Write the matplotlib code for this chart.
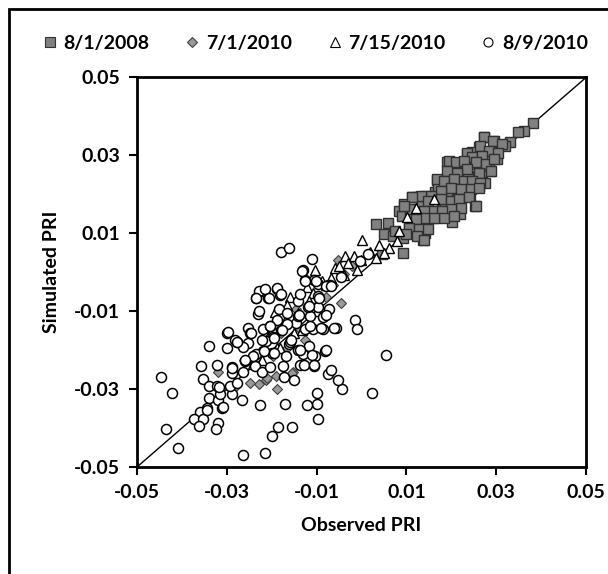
import matplotlib
matplotlib.use("Agg")
import matplotlib.pyplot as plt
from matplotlib.patches import Rectangle
from matplotlib.lines import Line2D

plt.rcParams['font.family'] = ['Lato', 'DejaVu Sans']
plt.rcParams['font.weight'] = 'bold'

series_names = ["8/1/2008", "7/1/2010", "7/15/2010", "8/9/2010"]

# 8/1/2008 (squares)
sq_x = [0.0381, 0.0361, 0.0348, 0.0331, 0.0320, 0.0273, 0.0294, 0.0261, 0.0301, 0.0287,
        0.0253, 0.0235, 0.0190, 0.0209, 0.0231, 0.0275, 0.0261, 0.0242, 0.0223, 0.0168,
        0.0178, 0.0201, 0.0242, 0.0253, 0.0220, 0.0198, 0.0190, 0.0164, 0.0142, 0.0123,
        0.0112, 0.0095, 0.0134, 0.0150, 0.0182, 0.0201, 0.0220, 0.0160, 0.0138, 0.0120,
        0.0142, 0.0123, 0.0138, 0.0105, 0.0093, 0.0060, 0.0032, 0.0049, 0.0071, 0.0093,
        0.0045, 0.0233, 0.0223, 0.0269, 0.0298, 0.0271, 0.0283, 0.0182, 0.0216, 0.0083,
        0.0090, 0.0247, 0.0214, 0.0200, 0.0228, 0.0171, 0.0156, 0.0185, 0.0276, 0.0238,
        0.0108, 0.0128, 0.0075, 0.0204, 0.0257,
        0.0273, 0.0292, 0.0314, 0.0265, 0.0284, 0.0303, 0.0236, 0.0247, 0.0269, 0.0195,
        0.0210, 0.0228, 0.0254, 0.0277, 0.0295, 0.0236, 0.0213, 0.0191, 0.0262, 0.0288,
        0.0169, 0.0184, 0.0206, 0.0228, 0.0247, 0.0265, 0.0199, 0.0221, 0.0243, 0.0262,
        0.0176, 0.0154, 0.0132, 0.0113, 0.0147, 0.0176, 0.0199, 0.0217, 0.0239, 0.0254,
        0.0221, 0.0199, 0.0180, 0.0158, 0.0139, 0.0109, 0.0094, 0.0184, 0.0161, 0.0139,
        0.0121, 0.0106, 0.0128, 0.0147, 0.0124, 0.0139, 0.0098, 0.0206]
sq_y = [0.0383, 0.0363, 0.0361, 0.0335, 0.0323, 0.0346, 0.0337, 0.0321, 0.0292, 0.0261,
        0.0289, 0.0303, 0.0282, 0.0280, 0.0265, 0.0230, 0.0221, 0.0234, 0.0234, 0.0238,
        0.0234, 0.0226, 0.0196, 0.0169, 0.0179, 0.0179, 0.0203, 0.0205, 0.0196, 0.0194,
        0.0192, 0.0175, 0.0170, 0.0153, 0.0145, 0.0128, 0.0149, 0.0140, 0.0128, 0.0123,
        0.0102, 0.0098, 0.0084, 0.0111, 0.0089, 0.0126, 0.0123, 0.0098, 0.0094, 0.0049,
        0.0047, 0.0217, 0.0250, 0.0257, 0.0308, 0.0308, 0.0274, 0.0183, 0.0192, 0.0157,
        0.0145, 0.0308, 0.0253, 0.0258, 0.0207, 0.0217, 0.0157, 0.0167, 0.0298, 0.0248,
        0.0137, 0.0147, 0.0107, 0.0167, 0.0278,
        0.0346, 0.0337, 0.0329, 0.0324, 0.0312, 0.0307, 0.0307, 0.0295, 0.0299, 0.0286,
        0.0282, 0.0286, 0.0282, 0.0277, 0.0290, 0.0264, 0.0256, 0.0260, 0.0256, 0.0260,
        0.0239, 0.0234, 0.0239, 0.0234, 0.0234, 0.0230, 0.0217, 0.0213, 0.0213, 0.0217,
        0.0209, 0.0196, 0.0196, 0.0192, 0.0183, 0.0187, 0.0183, 0.0187, 0.0192, 0.0170,
        0.0166, 0.0162, 0.0157, 0.0157, 0.0157, 0.0162, 0.0170, 0.0140, 0.0140, 0.0140,
        0.0136, 0.0114, 0.0110, 0.0110, 0.0093, 0.0084, 0.0097, 0.0144]

# 7/1/2010 (diamonds)
dm_x = [-0.0052, -0.0046, -0.0189, -0.0228, -0.0248, -0.0213, -0.0191, -0.0153, -0.0319,
        -0.0211, -0.0155, -0.0165, -0.0136, -0.0117, -0.0098, -0.0079, -0.0064, -0.0040,
        -0.0179, -0.0198, -0.0261, -0.0285, -0.0126, -0.0146, -0.0021]
dm_y = [0.0032, -0.0079, -0.0299, -0.0286, -0.0285, -0.0276, -0.0266, -0.0257, -0.0257,
        -0.0272, -0.0259, -0.0195, -0.0145, -0.0115, -0.0085, -0.0064, -0.0034, -0.0004,
        -0.0155, -0.0215, -0.0225, -0.0296, -0.0175, -0.0095, 0.0016]

# 7/15/2010 (triangles)
tr_x = [0.0002, -0.0036, -0.0016, 0.0019, 0.0039, 0.0079, 0.0083, 0.0102, 0.0121, 0.0161,
        0.0062, 0.0049, 0.0032, -0.0030, -0.0059, -0.0040, -0.0010, -0.0103, -0.0089, -0.0122,
        -0.0159, -0.0193, -0.0100, -0.0189, -0.0150, -0.0181, -0.0133, -0.0107, -0.0079,
        -0.0141, -0.0170, -0.0208, -0.0222, -0.0242, -0.0069, -0.0050, -0.0002, -0.0117,
        -0.0165, -0.0198]
tr_y = [0.0083, 0.0042, 0.0042, 0.0052, 0.0071, 0.0079, 0.0106, 0.0143, 0.0166, 0.0187,
        0.0062, 0.0049, 0.0036, 0.0024, 0.0011, -0.0006, 0.0007, 0.0005, -0.0022, -0.0039,
        -0.0064, -0.0103, -0.0099, -0.0194, -0.0155, -0.0194, -0.0147, -0.0054, -0.0034,
        -0.0105, -0.0125, -0.0165, -0.0225, -0.0236, -0.0014, 0.0016, 0.0031, -0.0075,
        -0.0085, -0.0145]

# 8/9/2010 (circles)
ci_x = [-0.0446, -0.0421, -0.0436, -0.0409, -0.0264, -0.0215, -0.0200, -0.0185, -0.0154, -0.0096,
        -0.0099, -0.0122, -0.0099, -0.0171, -0.0226, 0.0023, 0.0055, -0.0044, -0.0052, -0.0074,
        -0.0069, -0.0105, -0.0014, -0.0010, -0.0056, -0.0180, -0.0162, -0.0111, -0.0340, -0.0300,
        -0.0300, -0.0358, -0.0321, -0.0354, -0.0340, -0.0321, -0.0340, -0.0319, -0.0310, -0.0345,
        -0.0359, -0.0373, -0.0354, -0.0361, -0.0319, -0.0323, -0.0267, -0.0289, -0.0293, -0.0278,
        -0.0289, -0.0289, -0.0264, -0.0260, -0.0238, -0.0222, -0.0204, -0.0172, -0.0150, -0.0175,
        -0.0136, -0.0130, -0.0103, -0.0081, -0.0116, -0.0141, -0.0161, -0.0200, -0.0219, -0.0234,
        -0.0252, -0.0252, -0.0248, -0.0277, -0.0219, -0.0204, -0.0196, -0.0180, -0.0159, -0.0086,
        -0.0107, -0.0126, -0.0145, -0.0167, -0.0189, -0.0141, -0.0115, -0.0085, -0.0072, -0.0096,
        -0.0119, -0.0141, -0.0096, -0.0070, -0.0046, -0.0003, 0.0014, -0.0096, -0.0126, -0.0105,
        -0.0130, -0.0234, -0.0218, -0.0208, -0.0189, -0.0181, -0.0230, -0.0264, -0.0315, -0.0184,
        -0.0165, -0.0242, -0.0213, -0.0136, -0.0079,
        -0.0132, -0.0125, -0.0102, -0.0069, -0.0229, -0.0214, -0.0188, -0.0236, -0.0207, -0.0180,
        -0.0095, -0.0117, -0.0229, -0.0140, -0.0080, -0.0203, -0.0177, -0.0114, -0.0091, -0.0062,
        -0.0281, -0.0247, -0.0221, -0.0195, -0.0158, -0.0136, -0.0110, -0.0080, -0.0259, -0.0218,
        -0.0195, -0.0169, -0.0129, -0.0106, -0.0298, -0.0277, -0.0288, -0.0318, -0.0308, -0.0343]
ci_y = [-0.0268, -0.0310, -0.0402, -0.0452, -0.0469, -0.0463, -0.0420, -0.0398, -0.0398, -0.0377,
        -0.0337, -0.0342, -0.0310, -0.0337, -0.0342, -0.0310, -0.0212, -0.0300, -0.0276, -0.0261,
        -0.0250, -0.0240, -0.0123, -0.0146, -0.0143, 0.0051, 0.0062, 0.0035, -0.0189, -0.0155,
        -0.0195, -0.0240, -0.0238, -0.0274, -0.0293, -0.0293, -0.0323, -0.0329, -0.0348, -0.0348,
        -0.0360, -0.0377, -0.0377, -0.0395, -0.0386, -0.0403, -0.0329, -0.0312, -0.0293, -0.0285,
        -0.0259, -0.0242, -0.0255, -0.0229, -0.0240, -0.0255, -0.0242, -0.0268, -0.0276, -0.0240,
        -0.0238, -0.0210, -0.0215, -0.0201, -0.0189, -0.0199, -0.0184, -0.0208, -0.0201, -0.0210,
        -0.0182, -0.0143, -0.0155, -0.0180, -0.0145, -0.0139, -0.0167, -0.0148, -0.0180, -0.0145,
        -0.0145, -0.0145, -0.0130, -0.0134, -0.0122, -0.0112, -0.0112, -0.0115, -0.0094, -0.0089,
        -0.0088, -0.0075, -0.0062, -0.0033, -0.0011, 0.0029, 0.0046, -0.0031, -0.0020, -0.0020,
        0.0006, -0.0066, -0.0049, -0.0066, -0.0043, -0.0058, -0.0106, -0.0191, -0.0312, -0.0095,
        -0.0105, -0.0216, -0.0176, -0.0055, -0.0035,
        0.0003, -0.0023, -0.0023, -0.0036, -0.0049, -0.0044, -0.0040, -0.0066, -0.0066, -0.0057,
        -0.0066, -0.0087, -0.0100, -0.0109, -0.0109, -0.0139, -0.0147, -0.0139, -0.0143, -0.0143,
        -0.0173, -0.0156, -0.0173, -0.0169, -0.0173, -0.0199, -0.0212, -0.0199, -0.0225, -0.0203,
        -0.0207, -0.0216, -0.0237, -0.0237, -0.0154, -0.0180, -0.0246, -0.0295, -0.0346, -0.0353]

ticks = [-0.05, -0.03, -0.01, 0.01, 0.03, 0.05]
tick_labels = ["-0.05", "-0.03", "-0.01", "0.01", "0.03", "0.05"]

W, H = 608, 574
FS = 14
fig = plt.figure(figsize=(W / 100, H / 100), dpi=100)
ax = fig.add_axes([137 / W, 1 - 467 / H, (586 - 137) / W, (467 - 77.5) / H])

ax.plot([-0.05, 0.05], [-0.05, 0.05], color="black", lw=1.0, zorder=1)

ax.plot(sq_x, sq_y, ls="none", marker="s", ms=6.8, mfc="#808080", mec="#303030", mew=1.0, zorder=2)
ax.plot(dm_x, dm_y, ls="none", marker="D", ms=5.2, mfc="#9a9a9a", mec="#404040", mew=0.8, zorder=3)
ax.plot(tr_x, tr_y, ls="none", marker="^", ms=7.5, mfc="white", mec="black", mew=1.0, zorder=4)
ax.plot(ci_x, ci_y, ls="none", marker="o", ms=7.2, mfc="white", mec="black", mew=1.1, zorder=5)

ax.set_xlim(-0.05, 0.05)
ax.set_ylim(-0.05, 0.05)
ax.set_xticks(ticks)
ax.set_xticklabels(tick_labels)
ax.set_yticks(ticks)
ax.set_yticklabels(tick_labels)
ax.tick_params(direction="out", length=6, width=1.5, labelsize=FS, pad=6)
for lab in ax.get_xticklabels() + ax.get_yticklabels():
    lab.set_fontweight("bold")
for sp in ax.spines.values():
    sp.set_linewidth(2)
ax.set_xlabel("Observed PRI", fontsize=FS, fontweight="bold", labelpad=12)
ax.set_ylabel("Simulated PRI", fontsize=FS, fontweight="bold", labelpad=10)

handles = [
    Line2D([], [], ls="none", marker="s", ms=6.5, mfc="#808080", mec="#303030", mew=0.8),
    Line2D([], [], ls="none", marker="D", ms=5, mfc="#9a9a9a", mec="#404040", mew=0.8),
    Line2D([], [], ls="none", marker="^", ms=6.5, mfc="white", mec="black", mew=0.8),
    Line2D([], [], ls="none", marker="o", ms=6.5, mfc="white", mec="black", mew=0.8),
]
fig.legend(handles, series_names, loc="center", bbox_to_anchor=(314 / W, 1 - 43 / H), ncol=4,
           frameon=False, prop={"weight": "bold", "size": FS}, handletextpad=0.2,
           columnspacing=1.7, handlelength=1.0)

frame = Rectangle((8.5 / W, -0.2), 1.0, 1.2 - 9.5 / H, transform=fig.transFigure,
                  fill=False, lw=2, edgecolor="black")
fig.patches.append(frame)

fig.savefig("out.png", dpi=100)
